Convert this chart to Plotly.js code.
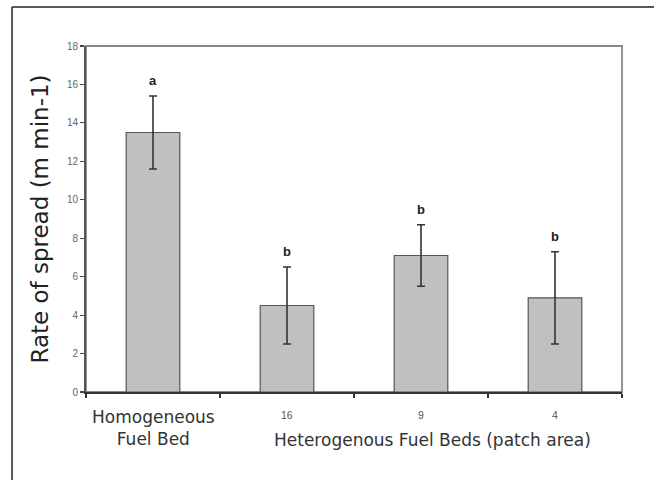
<!DOCTYPE html>
<html>
<head>
<meta charset="utf-8">
<script src="https://cdn.plot.ly/plotly-3.0.1.min.js"></script>
<style>
html,body{margin:0;padding:0;background:#fff;}
#chart{width:654px;height:480px;}
</style>
</head>
<body>
<div id="chart"></div>
<script>
// ---- data ----
const categories = ["Homogeneous", "16", "9", "4"];
const categoryLabels = ["Homogeneous<br>Fuel Bed", "16", "9", "4"];
const rateOfSpread = [13.5, 4.5, 7.1, 4.9];
const errorSD = [1.9, 2.0, 1.6, 2.4];
const groupLetters = ["a", "b", "b", "b"];
const yTickVals = [0, 2, 4, 6, 8, 10, 12, 14, 16, 18];
const yTitle = "Rate of spread (m min-1)";
const groupTitle = "Heterogenous Fuel Beds (patch area)";

const FONT = "Arial, 'Liberation Sans', sans-serif";
const WIDE = "'DejaVu Sans', sans-serif";

const trace = {
  type: "bar",
  x: categories,
  y: rateOfSpread,
  width: 0.4,
  marker: {color: "#c0c0c0", line: {color: "#555", width: 1.2}},
  error_y: {type: "data", array: errorSD, visible: true, color: "#333", thickness: 1.6, width: 4},
  hoverinfo: "skip"
};

const annotations = [];
categories.forEach((c, i) => {
  annotations.push({
    x: i, y: rateOfSpread[i] + errorSD[i], xref: "x", yref: "y",
    text: "<b>" + groupLetters[i] + "</b>", showarrow: false,
    yanchor: "bottom", yshift: 6,
    font: {family: FONT, size: 13, color: "#222"}
  });
  const big = i === 0;
  annotations.push({
    x: i, y: 0, xref: "x", yref: "paper",
    text: categoryLabels[i], showarrow: false,
    yanchor: "top", yshift: big ? -13 : -15,
    font: big ? {family: WIDE, size: 17, color: "#333"} : {family: FONT, size: 10.5, color: "#555"}
  });
});
annotations.push({
  x: 2, y: 0, xref: "x", yref: "paper",
  text: groupTitle, showarrow: false, yanchor: "top", yshift: -36, xshift: 11,
  font: {family: WIDE, size: 17, color: "#333"}
});

const layout = {
  width: 654, height: 480,
  margin: {l: 86, r: 32, t: 46, b: 88},
  paper_bgcolor: "#fff", plot_bgcolor: "#fff",
  showlegend: false,
  xaxis: {
    type: "category", categoryorder: "array", categoryarray: categories,
    range: [-0.5, 3.5], autorange: false,
    showticklabels: false, tickson: "boundaries", ticks: "outside", ticklen: 4,
    tickcolor: "#333", tickwidth: 1.2,
    showline: true, linecolor: "#333", linewidth: 2, showgrid: false, zeroline: false
  },
  yaxis: {
    range: [0, 18], autorange: false, tickvals: yTickVals, ticks: "outside", ticklen: 4,
    tickcolor: "#444", tickwidth: 1.2,
    tickfont: {family: FONT, size: 10, color: "#666"},
    showline: true, linecolor: "#555", linewidth: 2, showgrid: false, zeroline: false,
    title: {text: yTitle, font: {family: WIDE, size: 23, color: "#222"}, standoff: 12}
  },
  shapes: [
    {type: "rect", xref: "paper", yref: "paper", x0: 0, x1: 1, y0: 0, y1: 1,
     line: {color: "#888", width: 1.8}, layer: "below"},
    {type: "line", xref: "paper", yref: "paper", x0: -0.138, x1: -0.138, y0: -0.3, y1: 1.113,
     line: {color: "#222", width: 1.5}},
    {type: "line", xref: "paper", yref: "paper", x0: -0.138, x1: 1.1, y0: 1.113, y1: 1.113,
     line: {color: "#222", width: 1.5}}
  ],
  annotations: annotations
};

Plotly.newPlot("chart", [trace], layout, {displayModeBar: false, staticPlot: true});
</script>
</body>
</html>
